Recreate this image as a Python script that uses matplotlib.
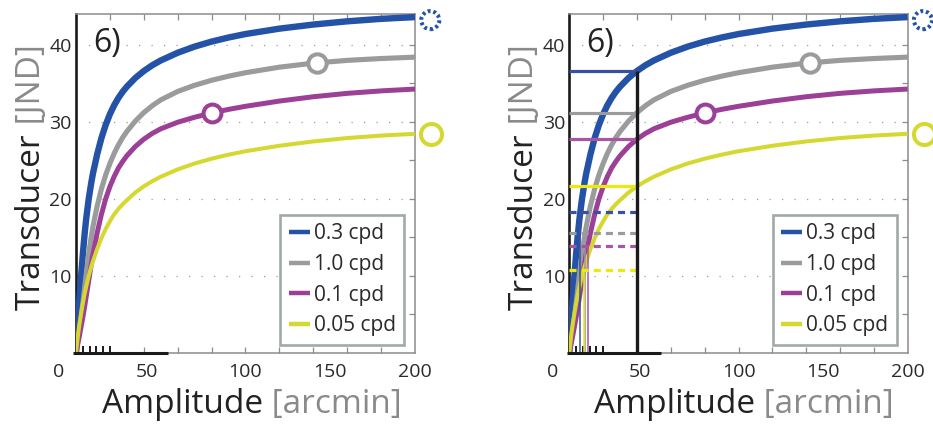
import numpy as np
import matplotlib
matplotlib.use("Agg")
import matplotlib.pyplot as plt
from matplotlib.lines import Line2D

plt.rcParams["font.family"] = ["Open Sans", "DejaVu Sans"]

# Transducer response vs. disparity amplitude for four corrugation frequencies
amplitude = [0, 1, 2, 3, 4, 5, 6, 7.5, 9, 10, 12.5, 15, 17.5, 20, 22.5, 25,
             27.5, 30, 35, 40, 45, 50, 60, 70, 80, 90, 100, 120, 140, 160,
             180, 200]
t_03 = [0, 3.55, 6.85, 9.95, 12.75, 15.25, 17.4, 20.0, 22.1, 23.3, 25.8,
        27.9, 29.6, 31.0, 32.15, 33.1, 33.9, 34.57, 35.7, 36.6, 37.35,
        37.97, 38.97, 39.77, 40.42, 40.95, 41.4, 42.1, 42.63, 43.05, 43.37,
        43.6]
t_10 = [0, 1.5, 3.0, 4.6, 6.4, 8.3, 10.2, 12.9, 15.1, 16.4, 19.1, 21.3,
        23.1, 24.6, 25.9, 27.0, 27.95, 28.75, 30.1, 31.2, 32.1, 32.85,
        33.95, 34.75, 35.4, 35.93, 36.38, 37.1, 37.62, 37.98, 38.22, 38.4]
t_01 = [0, 1.1, 2.2, 3.4, 4.6, 5.9, 7.3, 9.4, 11.5, 12.8, 15.6, 18.0, 20.0,
        21.6, 22.9, 24.0, 24.85, 25.6, 26.8, 27.75, 28.5, 29.1, 29.95,
        30.6, 31.15, 31.62, 32.02, 32.7, 33.26, 33.7, 34.02, 34.26]
t_005 = [0, 2.0, 3.7, 5.1, 6.4, 7.6, 8.6, 10.0, 11.2, 11.9, 13.5, 14.9,
         16.1, 17.1, 18.0, 18.7, 19.3, 19.83, 20.83, 21.63, 22.3, 22.88,
         23.83, 24.6, 25.22, 25.74, 26.19, 26.9, 27.46, 27.9, 28.22, 28.45]

series_labels = ["0.3 cpd", "1.0 cpd", "0.1 cpd", "0.05 cpd"]
series_values = [t_03, t_10, t_01, t_005]
series_colors = ["#2452a6", "#9a9b9d", "#9c3f97", "#d6d832"]
series_widths = [4.6, 3.7, 3.6, 2.9]
guide_colors = ["#3a509e", "#9a9b9d", "#a855a4", "#ece812"]

# saturation markers (amplitude, transducer value)
marker_x = [209, 142, 80, 209.6]
marker_y = [43.2, 37.6, 31.15, 28.4]
marker_sizes = [170, 175, 165, 230]
marker_styles = [(0, (0.7, 0.7)), "solid", "solid", "solid"]

x_tick_pos = [-10, 42, 100, 150, 200]
x_tick_text = ["0", "50", "100", "150", "200"]
y_ticks = [10, 20, 30, 40]
reference_amplitude = 40
black_segment = (-1.5, 54)

W, H = 933, 428
fig = plt.figure(figsize=(W / 100, H / 100), dpi=100)

TXT = "#2a2a2a"
GRAYTXT = "#8a8a8a"
FRAME = "#8c8c8c"


def draw_panel(left_px, width_px, guides):
    ax = fig.add_axes([left_px / W, 75 / H, width_px / W, 339 / H])
    ax.set_xlim(0, 200)
    ax.set_ylim(0, 44)

    # dotted horizontal grid
    for yv in y_ticks:
        ax.axhline(yv, color="#9a9a9a", lw=0.9, ls=(0, (1, 9)), zorder=0.5)

    for vals, col, lw in zip(series_values, series_colors, series_widths):
        ax.plot(amplitude, vals, color=col, lw=lw, solid_capstyle="butt",
                solid_joinstyle="round", zorder=3)

    for mx, my, col, s, ls in zip(marker_x, marker_y, series_colors,
                                  marker_sizes, marker_styles):
        ax.scatter([mx], [my], s=s, facecolor="white", edgecolor=col,
                   linewidths=2.9, linestyle=ls, zorder=7, clip_on=False)

    if guides:
        for vals, col in zip(series_values, guide_colors):
            v = np.interp(reference_amplitude, amplitude, vals)
            ax.plot([0, reference_amplitude], [v, v], color=col, lw=2.3,
                    solid_capstyle="butt", zorder=5)
            ax.plot([0, reference_amplitude], [v / 2, v / 2], color=col,
                    lw=2.3, dashes=(2.2, 1.6), zorder=5)
            xh = np.interp(v / 2, vals, amplitude)
            ax.plot([xh, xh], [0, v / 2], color=col, lw=1.1, zorder=5)
        vb = np.interp(reference_amplitude, amplitude, series_values[0])
        ax.plot([reference_amplitude, reference_amplitude], [0, vb],
                color="#1a1a1a", lw=2.4, solid_capstyle="butt", zorder=6)

    # spines
    for side in ("top", "right"):
        ax.spines[side].set_color(FRAME)
        ax.spines[side].set_linewidth(1.1)
    ax.spines["left"].set_color("#1a1a1a")
    ax.spines["left"].set_linewidth(1.9)
    ax.spines["bottom"].set_visible(False)

    bottom = ax.secondary_xaxis("bottom")
    bottom.set_xticks([])
    bottom.spines["bottom"].set_color(FRAME)
    bottom.spines["bottom"].set_linewidth(1.1)
    ax.plot(black_segment, [0, 0], color="#1a1a1a", lw=2.2, clip_on=False,
            solid_capstyle="butt", zorder=8)

    ax.set_xticks(np.arange(40, 200, 20))
    ax.set_xticks([4, 8, 12, 16, 20], minor=True)
    ax.tick_params(axis="x", which="major", direction="in", length=4,
                   color=FRAME, width=0.9, labelbottom=False)
    ax.tick_params(axis="x", which="minor", direction="in", length=5,
                   color="#1a1a1a", width=1.4, labelbottom=False)
    ax.set_yticks(y_ticks)
    ax.tick_params(axis="y", length=0, pad=3, labelsize=14, labelcolor=TXT)

    top = ax.secondary_xaxis("top")
    top.set_xticks(np.arange(20, 200, 20))
    top.tick_params(direction="in", length=4, color=FRAME, width=0.9,
                    labeltop=False)
    top.spines["top"].set_visible(False)

    right = ax.secondary_yaxis("right")
    right.set_yticks(np.arange(5, 44, 5))
    right.tick_params(direction="in", length=4, color=FRAME, width=0.9,
                      labelright=False)
    right.spines["right"].set_visible(False)

    for xp, tx in zip(x_tick_pos, x_tick_text):
        ax.text(xp, -0.055, tx, transform=ax.get_xaxis_transform(),
                ha="center", va="center", fontsize=14, color=TXT)

    ax.text(0.091, 0.914, "6)", transform=ax.transAxes, ha="center",
            va="center", fontsize=23, color="#222222", zorder=4,
            bbox=dict(facecolor="white", edgecolor="none", pad=1))

    handles = [Line2D([], [], color=c, lw=3.2, solid_capstyle="butt")
               for c in series_colors]
    leg = ax.legend(handles, series_labels, loc="lower right",
                    bbox_to_anchor=(0.969, 0.024), borderaxespad=0,
                    fontsize=15, handlelength=1.0, handletextpad=0.2,
                    labelspacing=0.46, borderpad=0.42, fancybox=False,
                    framealpha=1, edgecolor="#a2aaa6")
    leg.get_frame().set_linewidth(1.9)
    for t in leg.get_texts():
        t.set_color(TXT)
    leg.set_zorder(9)
    return ax


ax1 = draw_panel(76, 339, guides=False)
ax2 = draw_panel(569.3, 338.4, guides=True)

# two-tone axis titles
x_title_start = [101.7, 594.0]
y_title_x = [40.0, 533.0]
title_texts = []
for xs, yx in zip(x_title_start, y_title_x):
    t1 = fig.text(xs / W, 1 - 413 / H, "Amplitude", fontsize=24,
                  color="#222222", ha="left", va="baseline")
    t2 = fig.text(yx / W, 1 - 310 / H, "Transducer", fontsize=24,
                  color="#222222", ha="left", va="baseline", rotation=90,
                  rotation_mode="anchor")
    title_texts.append((t1, t2))

fig.canvas.draw()
r = fig.canvas.get_renderer()
for (t1, t2), xs, yx in zip(title_texts, x_title_start, y_title_x):
    b1 = t1.get_window_extent(r)
    fig.text(b1.x1 / W, 1 - 413 / H, " [arcmin]", fontsize=24,
             color=GRAYTXT, ha="left", va="baseline")
    b2 = t2.get_window_extent(r)
    fig.text(yx / W, b2.y1 / H, " [JND]", fontsize=24, color=GRAYTXT,
             ha="left", va="baseline", rotation=90, rotation_mode="anchor")

fig.savefig("out.png", dpi=100, facecolor="white")
